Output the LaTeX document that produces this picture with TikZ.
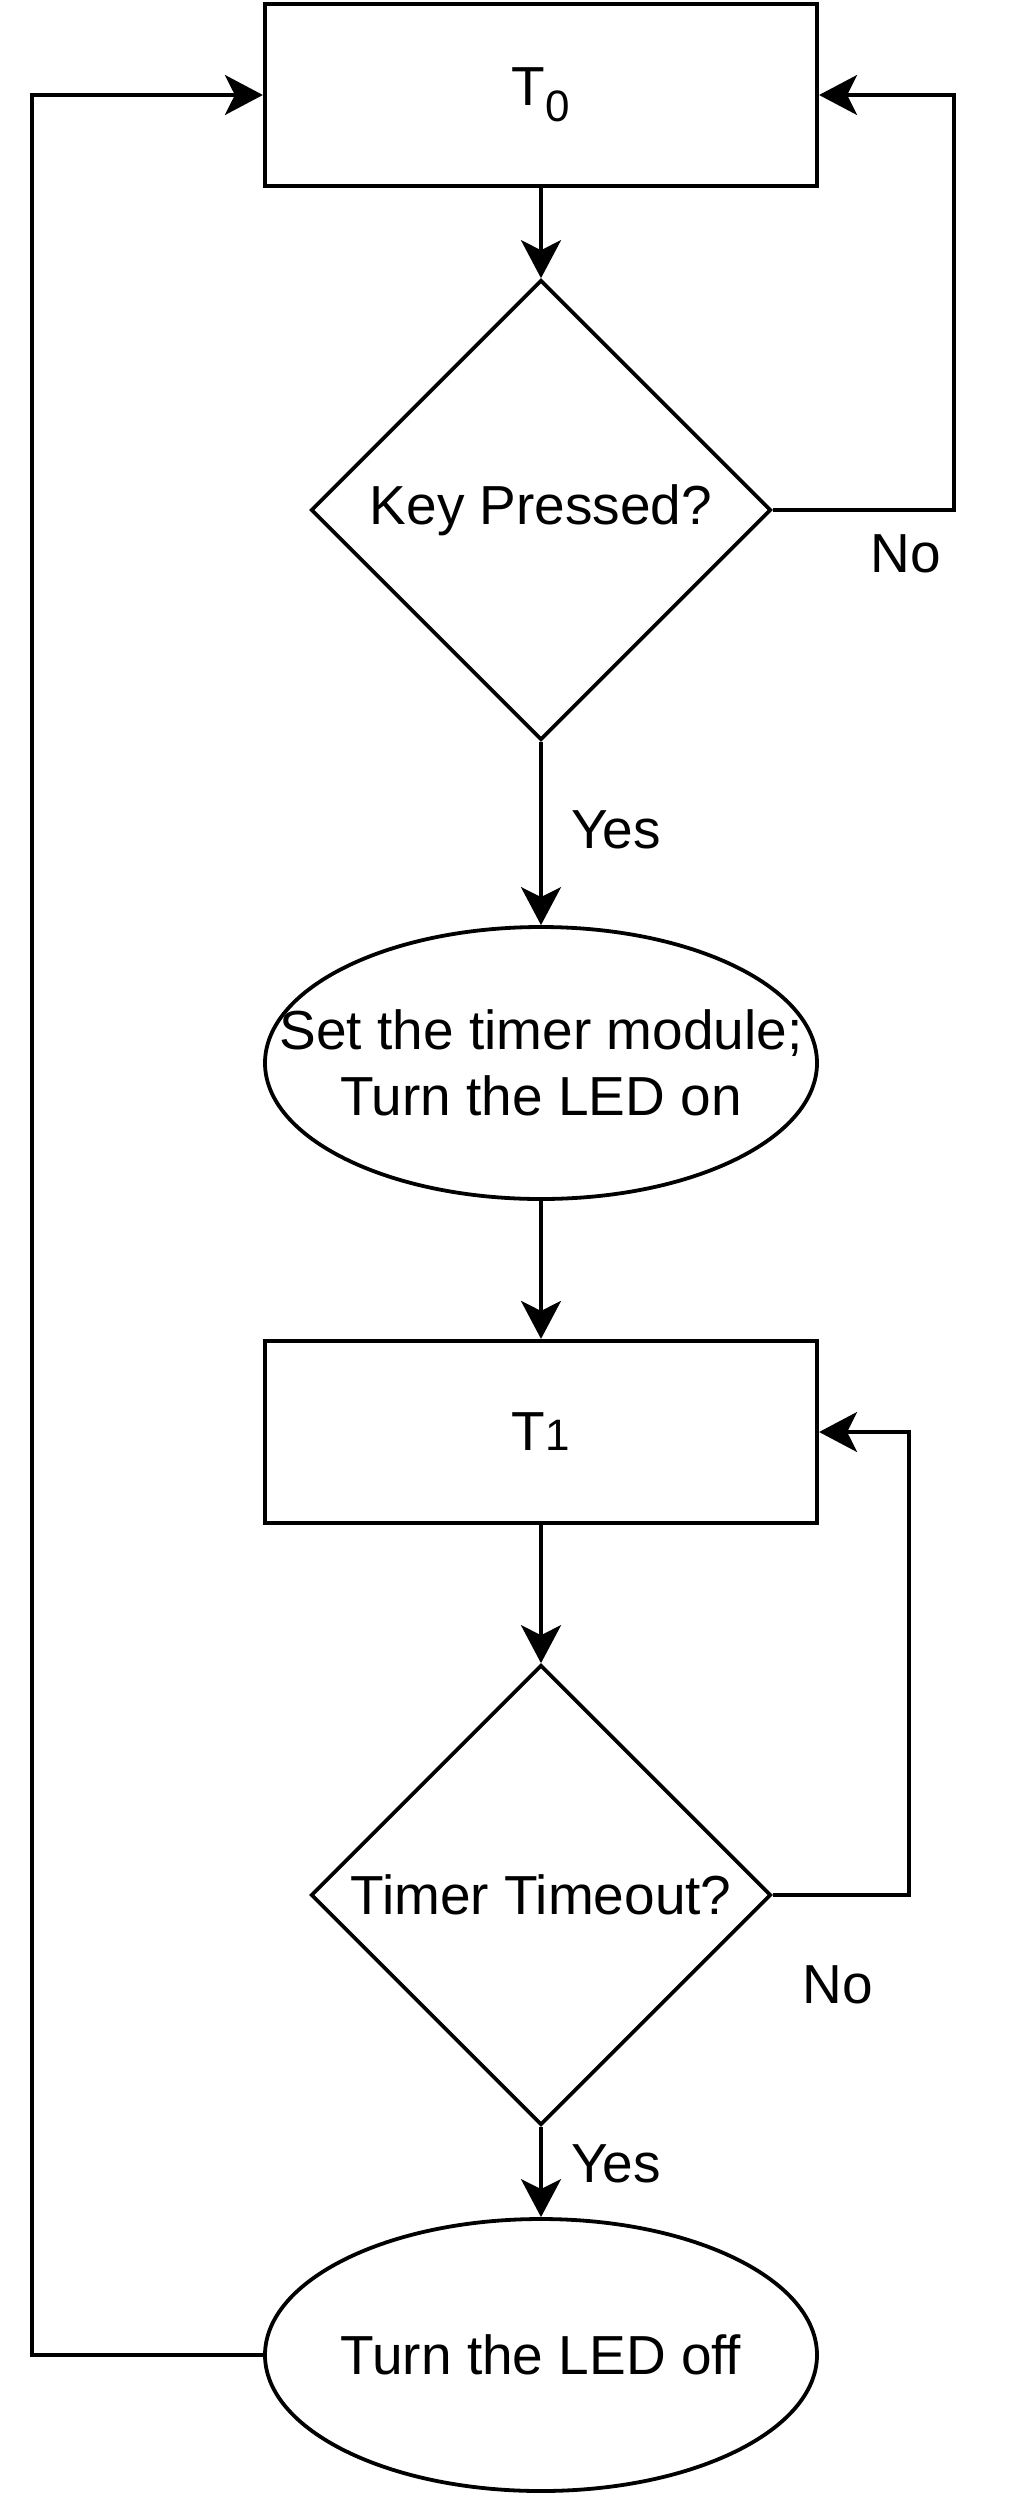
\documentclass[tikz,border=0pt]{standalone}
\usepackage{fontspec}
\setmainfont{Liberation Sans}
\usetikzlibrary{shapes.geometric,arrows.meta}
\tikzset{
  box/.style={draw, line width=2.1pt, minimum width=276pt, minimum height=91pt, inner sep=0pt},
  ask/.style={draw, diamond, line width=1.8pt, minimum width=230pt, minimum height=230pt, inner sep=0pt},
  oval/.style={draw, ellipse, line width=1.9pt, minimum width=276pt, minimum height=136pt, inner sep=0pt},
  txt/.style={font=\fontsize{27.5}{33}\selectfont, align=center},
  arr/.style={line width=1.7pt, -{Stealth[length=19pt,width=20pt,inset=5pt]}},
}
\begin{document}
\begin{tikzpicture}[x=0.5pt,y=-0.5pt]
     \useasboundingbox (0,0) rectangle (1010,2500);
     % states and tests
     \node[box, txt] (t0) at (541,95) {T\raisebox{-8pt}{\fontsize{22}{22}\selectfont 0}};
     \node[ask, txt] (key) at (541,510) {Key Pressed?};
     \node[oval, label={[txt]center:Set the timer module;\\Turn the LED on}] (set) at (541,1063) {};
     \node[box, txt] (t1) at (541,1432) {T{\fontsize{22}{22}\selectfont 1}};
     \node[ask, txt] (tout) at (541,1895) {Timer Timeout?};
     \node[oval, label={[txt]center:Turn the LED off}] (off) at (541,2355) {};
     % loop corners
     \coordinate (nokey) at (954,510);
     \coordinate (notout) at (909,1895);
     \coordinate (back) at (32,2355);
     % main flow
     \draw[arr] (t0) -- (key);
     \draw[arr] (key) -- (set);
     \draw[arr] (set) -- (t1);
     \draw[arr] (t1) -- (tout);
     \draw[arr] (tout) -- (off);
     % loops
     \draw[arr] (key.east) -- (nokey) |- (t0.east);
     \draw[arr] (tout.east) -- (notout) |- (t1.east);
     \draw[arr] (off.west) -- (back) |- (t0.west);
     % labels
     \node[txt] (nokeylbl) at (906,554) {No};
     \node[txt] (yeskeylbl) at (616,830) {Yes};
     \node[txt] (notoutlbl) at (838,1985) {No};
     \node[txt] (yestoutlbl) at (616,2164) {Yes};
\end{tikzpicture}
\end{document}
